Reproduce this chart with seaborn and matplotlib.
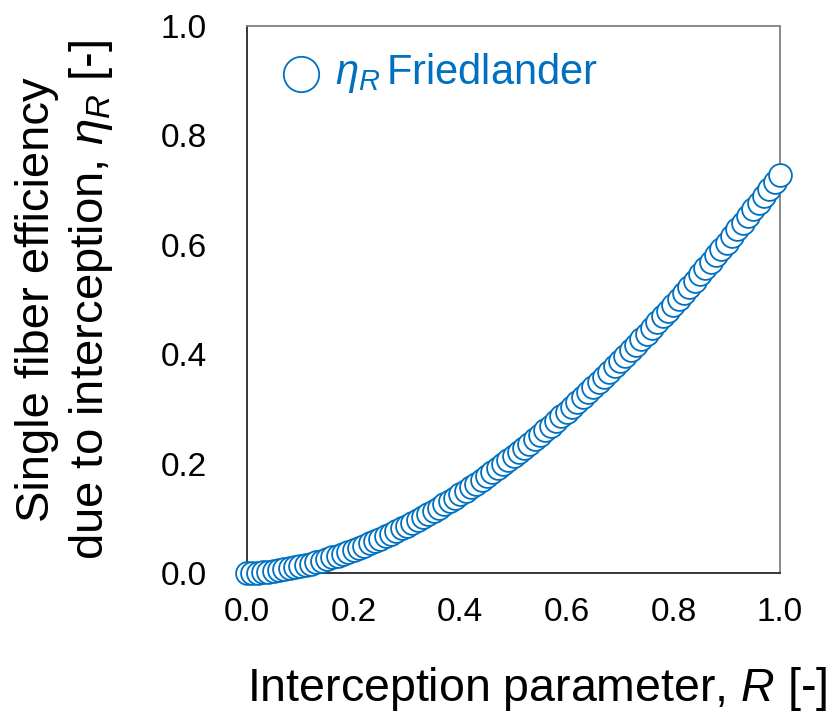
import matplotlib
matplotlib.use("Agg")
import matplotlib.pyplot as plt
import seaborn as sns
import pandas as pd

# Interception parameter R and the Friedlander single fiber efficiency eta_R
R = [0.00, 0.01, 0.02, 0.03, 0.04, 0.05, 0.06, 0.07, 0.08, 0.09,
     0.10, 0.11, 0.12, 0.13, 0.14, 0.15, 0.16, 0.17, 0.18, 0.19,
     0.20, 0.21, 0.22, 0.23, 0.24, 0.25, 0.26, 0.27, 0.28, 0.29,
     0.30, 0.31, 0.32, 0.33, 0.34, 0.35, 0.36, 0.37, 0.38, 0.39,
     0.40, 0.41, 0.42, 0.43, 0.44, 0.45, 0.46, 0.47, 0.48, 0.49,
     0.50, 0.51, 0.52, 0.53, 0.54, 0.55, 0.56, 0.57, 0.58, 0.59,
     0.60, 0.61, 0.62, 0.63, 0.64, 0.65, 0.66, 0.67, 0.68, 0.69,
     0.70, 0.71, 0.72, 0.73, 0.74, 0.75, 0.76, 0.77, 0.78, 0.79,
     0.80, 0.81, 0.82, 0.83, 0.84, 0.85, 0.86, 0.87, 0.88, 0.89,
     0.90, 0.91, 0.92, 0.93, 0.94, 0.95, 0.96, 0.97, 0.98, 0.99,
     1.00]
eta_R = [0.0000, 0.0002, 0.0007, 0.0015, 0.0024, 0.0036, 0.0050, 0.0066, 0.0083, 0.0103,
         0.0124, 0.0146, 0.0171, 0.0197, 0.0224, 0.0253, 0.0284, 0.0316, 0.0350, 0.0385,
         0.0422, 0.0460, 0.0499, 0.0540, 0.0582, 0.0626, 0.0671, 0.0717, 0.0765, 0.0814,
         0.0864, 0.0916, 0.0969, 0.1023, 0.1079, 0.1135, 0.1193, 0.1253, 0.1313, 0.1375,
         0.1438, 0.1503, 0.1568, 0.1634, 0.1702, 0.1772, 0.1842, 0.1913, 0.1986, 0.2060,
         0.2135, 0.2211, 0.2288, 0.2366, 0.2446, 0.2527, 0.2609, 0.2692, 0.2776, 0.2861,
         0.2948, 0.3035, 0.3124, 0.3214, 0.3304, 0.3396, 0.3489, 0.3583, 0.3678, 0.3775,
         0.3872, 0.3971, 0.4070, 0.4171, 0.4273, 0.4375, 0.4479, 0.4583, 0.4689, 0.4797,
         0.4904, 0.5014, 0.5123, 0.5235, 0.5346, 0.5460, 0.5575, 0.5689, 0.5806, 0.5924,
         0.6041, 0.6161, 0.6281, 0.6402, 0.6524, 0.6648, 0.6773, 0.6897, 0.7024, 0.7152,
         0.7280]

x_ticks = [0.0, 0.2, 0.4, 0.6, 0.8, 1.0]
y_ticks = [0.0, 0.2, 0.4, 0.6, 0.8, 1.0]
series_label = r"$\eta_R\,$Friedlander"

BLUE = "#0070C0"

sns.set_theme(style="white")
plt.rcParams["font.family"] = ["Liberation Sans", "DejaVu Sans"]
plt.rcParams["mathtext.fontset"] = "custom"
plt.rcParams["mathtext.rm"] = "Liberation Sans"
plt.rcParams["mathtext.it"] = "Liberation Sans:italic"
plt.rcParams["text.color"] = "black"
plt.rcParams["axes.labelcolor"] = "black"

df = pd.DataFrame({"R": R, "eta_R": eta_R})

fig = plt.figure(figsize=(8.33, 7.22), dpi=100)
ax = fig.add_axes([0.2965, 0.2064, 0.6399, 0.7576])

sns.scatterplot(data=df, x="R", y="eta_R", ax=ax, marker="o", s=270,
                facecolor="white", edgecolor=BLUE, linewidth=1.3,
                label=series_label, clip_on=False, zorder=3)

ax.set_xlim(0, 1)
ax.set_ylim(0, 1)
ax.set_xticks(x_ticks)
ax.set_yticks(y_ticks)
ax.set_xticklabels([f"{t:.1f}" for t in x_ticks])
ax.set_yticklabels([f"{t:.1f}" for t in y_ticks])

ax.tick_params(axis="both", direction="in", length=7, width=1.2,
               labelsize=24, colors="black")
ax.tick_params(axis="x", pad=17)
ax.tick_params(axis="y", pad=29)

for side in ["left", "bottom"]:
    ax.spines[side].set_color("#262626")
    ax.spines[side].set_linewidth(1.3)
for side in ["top", "right"]:
    ax.spines[side].set_color("#808080")
    ax.spines[side].set_linewidth(1.3)

ax.set_xlabel(r"Interception parameter, $R$ [-]", fontsize=33.5, labelpad=27)
ax.xaxis.label.set_x(0.545)
ax.set_ylabel("Single fiber efficiency\n" + r"due to interception, $\eta_R$ [-]",
              fontsize=34, labelpad=33, linespacing=1.2)

leg = ax.legend(loc="upper left", bbox_to_anchor=(-0.015, 1.022), frameon=False,
                fontsize=30, markerscale=1.55, handletextpad=0.2,
                borderaxespad=0.5, handlelength=1.2)
for txt in leg.get_texts():
    txt.set_color(BLUE)

fig.savefig("out.png", dpi=100)
